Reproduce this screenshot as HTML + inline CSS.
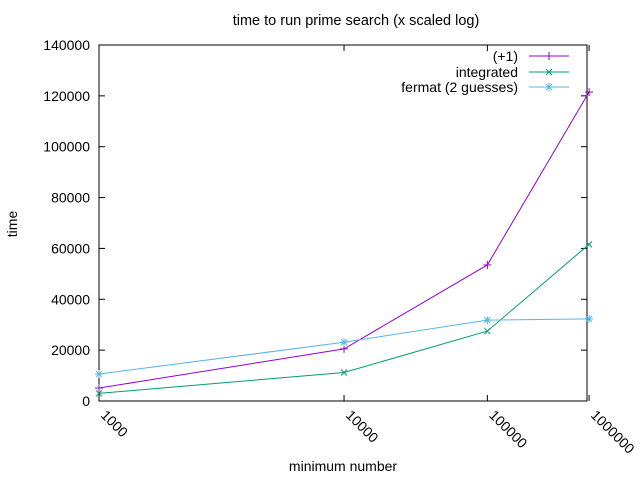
<!DOCTYPE html>
<html><head><meta charset="utf-8"><style>
body{margin:0;background:#fff}
svg{display:block;font-family:"Liberation Sans",sans-serif;font-size:14px}
</style></head><body>
<svg id="chart" width="640" height="480">
<rect width="640" height="480" fill="#fff"/>
<text x="356" y="25" text-anchor="middle" style="font-size:14.5px">time to run prime search (x scaled log)</text>
<text transform="translate(17,224) rotate(-90)" text-anchor="middle">time</text>
<text x="343" y="471" text-anchor="middle">minimum number</text>
<g id="axes"></g>
<g id="series"></g>
<g id="legend"></g>
</svg>
<script>
const xTicks=[1000,10000,100000,1000000];
const xTickLabels=["1000","10000","100000","1000000"];
const yTicks=[0,20000,40000,60000,80000,100000,120000,140000];
const xValues=[1000,10000,100000,1000000];
const plusOne=[5100,20500,53500,121500];
const integrated=[3000,11200,27500,61600];
const fermat=[10600,23100,31800,32300];
const seriesNames=["(+1)","integrated","fermat (2 guesses)"];

const L=99,R=587,T=45,B=401;
function xs(v){return 99+353.5*Math.log(Math.log10(v)-2);}
function ys(v){return B-(v/140000)*(B-T);}
const NS="http://www.w3.org/2000/svg";
function mk(tag,attrs,parent){const e=document.createElementNS(NS,tag);for(const k in attrs)e.setAttribute(k,attrs[k]);parent.appendChild(e);return e;}
const axes=document.getElementById('axes');
yTicks.forEach(t=>{
  const y=ys(t);
  const l=mk('line',{x1:L,x2:L+6,y1:y,y2:y,stroke:'#000'},axes);
  
  
  if(t>0&&t<140000){mk('line',{x1:R-6,x2:R,y1:y,y2:y,stroke:'#000'},axes);}
  const tx=mk('text',{x:L-9,y:y+5,'text-anchor':'end'},axes);
  tx.textContent=t;
  
  
});
xTicks.forEach((t,i)=>{
  const x=xs(t);
  const l=mk('line',{x1:x,x2:x,y1:B,y2:B-6,stroke:'#000'},axes);
  
  
  mk('line',{x1:x,x2:x,y1:T,y2:T+6,stroke:'#000'},axes);
  const tx=mk('text',{transform:`translate(${x+1},${B+15}) rotate(45)`,'text-anchor':'start'},axes);
  tx.textContent=xTickLabels[i];
  
  
});
const fr=mk('rect',{x:L,y:T,width:R-L,height:B-T,fill:'none',stroke:'#000'},axes);



function marker(g,type,x,y,c){
  if(type!=='x'){mk('line',{x1:x-4,x2:x+4,y1:y,y2:y,stroke:c},g);mk('line',{x1:x,x2:x,y1:y-4,y2:y+4,stroke:c},g);}
  if(type!=='+'){mk('line',{x1:x-3,x2:x+3,y1:y-3,y2:y+3,stroke:c},g);mk('line',{x1:x-3,x2:x+3,y1:y+3,y2:y-3,stroke:c},g);}
}
const sg=document.getElementById('series');
const lg=document.getElementById('legend');
const defs=[[plusOne,'#9400d3','+'],[integrated,'#009e73','x'],[fermat,'#56b4e9','*']];
const legY=[56,72,87];
defs.forEach((d,i)=>{
  const [vals,c,m]=d;
  const g=mk('g',{},sg);
  
  
  const pts=vals.map((v,j)=>xs(xValues[j])+','+ys(v)).join(' ');
  mk('polyline',{points:pts,fill:'none',stroke:c,'stroke-width':1},g);
  vals.forEach((v,j)=>marker(g,m,xs(xValues[j]),ys(v),c));
  const le=mk('g',{},lg);
  
  
  const t=mk('text',{x:518,y:legY[i]+5,'text-anchor':'end'},le);
  t.textContent=seriesNames[i];
  mk('line',{x1:529,x2:569,y1:legY[i],y2:legY[i],stroke:c},le);
  marker(le,m,549,legY[i],c);
});
</script>
</body></html>
